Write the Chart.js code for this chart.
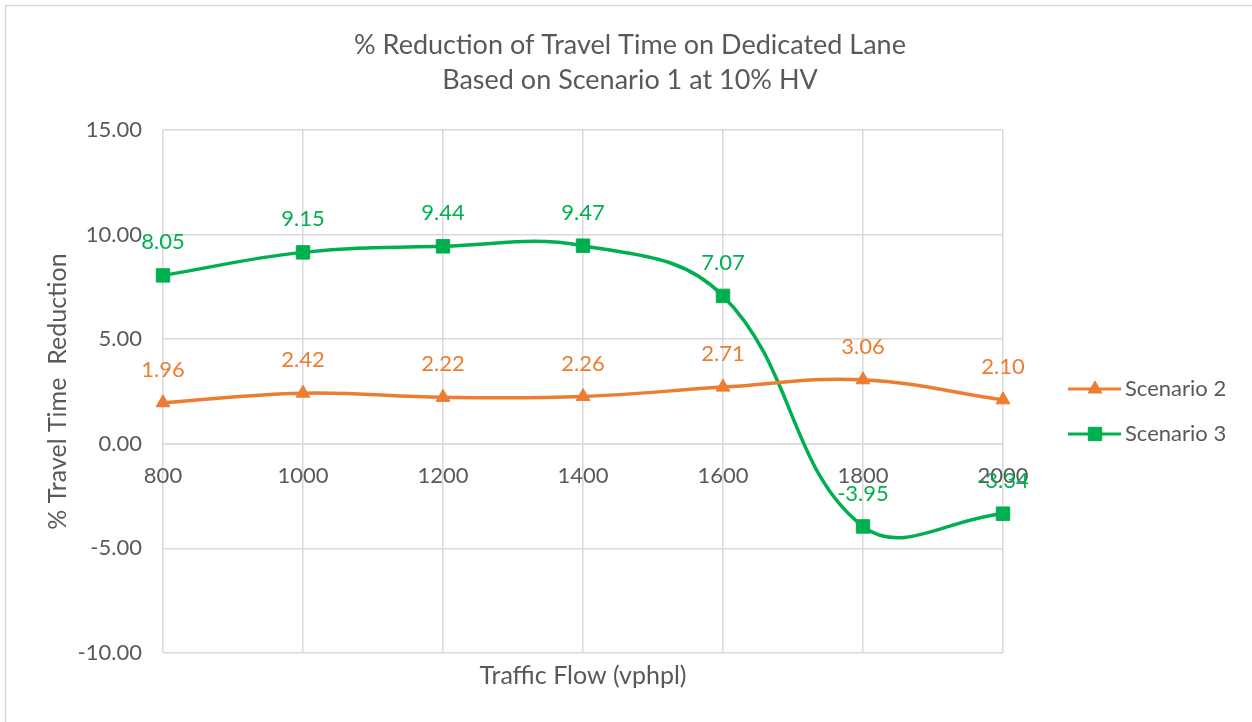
<!DOCTYPE html>
<html>
<head>
<meta charset="utf-8">
<script src="https://cdn.jsdelivr.net/npm/chart.js@4/dist/chart.umd.min.js"></script>
<style>
  html, body { margin: 0; padding: 0; background: #fff; }
  #wrap { position: relative; width: 1252px; height: 722px; }
</style>
</head>
<body>
<div id="wrap"><canvas id="chart" width="1252" height="722"></canvas></div>
<script>
// data
const flows = ['800', '1000', '1200', '1400', '1600', '1800', '2000'];
const scenario2 = [1.96, 2.42, 2.22, 2.26, 2.71, 3.06, 2.10];
const scenario3 = [8.05, 9.15, 9.44, 9.47, 7.07, -3.95, -3.34];
const yTicks = [-10, -5, 0, 5, 10, 15];

const titleLines = ['% Reduction of Travel Time on Dedicated Lane', 'Based on Scenario 1 at 10% HV'];
const xTitle = 'Traffic Flow (vphpl)';
const yTitle = '% Travel Time  Reduction';

const ORANGE = '#ED7D31';
const GREEN = '#00B050';
const GRID = '#d9d9d9';
const TEXT = '#595959';
const FONT = 'Lato, "Open Sans", sans-serif';

// extra drawing: frame, titles, value labels, legend
const decorations = {
    id: 'decorations',
    afterDatasetsDraw(chart) {
        const ctx = chart.ctx;
        const area = chart.chartArea;
        ctx.save();

        // outer frame (only top and left visible in the picture)
        ctx.strokeStyle = GRID;
        ctx.lineWidth = 1.5;
        ctx.beginPath();
        ctx.moveTo(5.5, 730);
        ctx.lineTo(5.5, 5.5);
        ctx.lineTo(1260, 5.5);
        ctx.stroke();

        // chart title
        ctx.fillStyle = TEXT;
        ctx.textAlign = 'center';
        ctx.textBaseline = 'middle';
        ctx.font = '27px ' + FONT;
        ctx.fillText(titleLines[0], 630, 45);
        ctx.fillText(titleLines[1], 630, 80);

        // axis titles
        ctx.font = '25px ' + FONT;
        ctx.fillText(xTitle, (area.left + area.right) / 2, 676);
        ctx.save();
        ctx.translate(58, (area.top + area.bottom) / 2);
        ctx.rotate(-Math.PI / 2);
        ctx.fillText(yTitle, 0, 0);
        ctx.restore();

        // value labels above each point
        ctx.font = '22px ' + FONT;
        chart.data.datasets.forEach((ds, i) => {
            const meta = chart.getDatasetMeta(i);
            ctx.fillStyle = ds.borderColor;
            meta.data.forEach((pt, j) => {
                ctx.fillText(ds.data[j].toFixed(2), pt.x, pt.y - 33);
            });
        });

        // legend: line with marker + name
        const legendY = [389, 434];
        chart.data.datasets.forEach((ds, i) => {
            const y = legendY[i];
            ctx.strokeStyle = ds.borderColor;
            ctx.fillStyle = ds.borderColor;
            ctx.lineWidth = 3;
            ctx.beginPath();
            ctx.moveTo(1068, y);
            ctx.lineTo(1121, y);
            ctx.stroke();
            ctx.lineWidth = 1;
            Chart.helpers.drawPoint(ctx, {
                pointStyle: ds.pointStyle,
                radius: ds.pointRadius,
                borderWidth: 1
            }, 1095, y);
            ctx.fillStyle = TEXT;
            ctx.textAlign = 'left';
            ctx.fillText(ds.label, 1125, y);
            ctx.textAlign = 'center';
        });

        ctx.restore();
    }
};

new Chart(document.getElementById('chart'), {
    type: 'line',
    data: {
        labels: flows,
        datasets: [
            {
                label: 'Scenario 2',
                data: scenario2,
                borderColor: ORANGE,
                backgroundColor: ORANGE,
                borderWidth: 3.5,
                pointStyle: 'triangle',
                pointRadius: 8,
                pointBorderWidth: 1,
                tension: 0.4
            },
            {
                label: 'Scenario 3',
                data: scenario3,
                borderColor: GREEN,
                backgroundColor: GREEN,
                borderWidth: 3.5,
                pointStyle: 'rect',
                pointRadius: 9.5,
                pointBorderWidth: 1,
                tension: 0.4
            }
        ]
    },
    options: {
        responsive: false,
        animation: false,
        layout: { padding: { left: 0, top: 130, right: 249, bottom: 69 } },
        plugins: {
            legend: { display: false },
            title: { display: false },
            tooltip: { enabled: false }
        },
        scales: {
            x: {
                position: { y: 0 },
                offset: false,
                grid: { color: GRID, lineWidth: 1.5, drawTicks: false },
                border: { color: GRID, width: 1.5 },
                ticks: {
                    color: TEXT,
                    font: { family: FONT, size: 22 },
                    padding: 19,
                    maxRotation: 0
                }
            },
            y: {
                min: -10,
                max: 15,
                afterFit: (scale) => { scale.width = 163; },
                afterBuildTicks: (scale) => { scale.ticks = yTicks.map(v => ({ value: v })); },
                grid: { color: GRID, lineWidth: 1.5, drawTicks: false },
                border: { display: false },
                ticks: {
                    color: TEXT,
                    font: { family: FONT, size: 22 },
                    padding: 21,
                    callback: (v) => Number(v).toFixed(2)
                }
            }
        }
    },
    plugins: [decorations]
});
</script>
</body>
</html>
